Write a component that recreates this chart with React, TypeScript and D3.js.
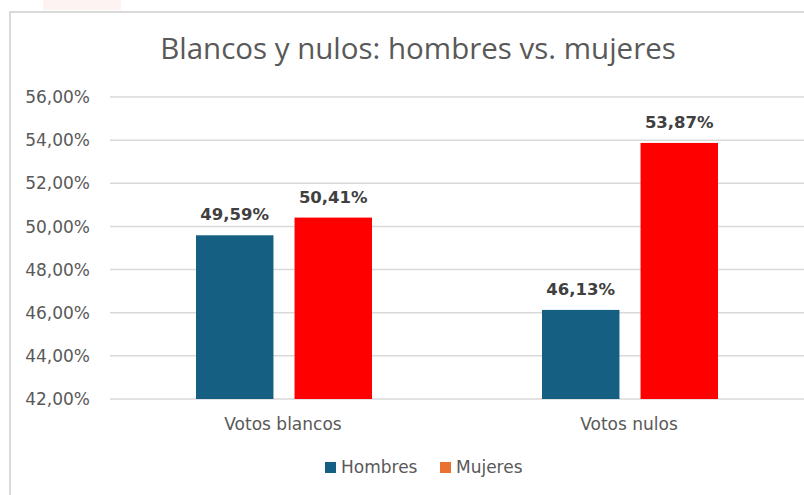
import React, { useEffect, useRef } from 'react';
import * as d3 from 'd3';

const categories = ['Votos blancos', 'Votos nulos'];
const seriesNames = ['Hombres', 'Mujeres'];
const hombres = [49.59, 46.13];
const mujeres = [50.41, 53.87];
const yTicks = [42, 44, 46, 48, 50, 52, 54, 56];
const barColors = ['#156082', '#FF0000'];
const legendColors = ['#156082', '#E97132'];

const fmt = (v: number) => v.toFixed(2).replace('.', ',') + '%';

const App: React.FC = () => {
    const ref = useRef<SVGSVGElement>(null);

    useEffect(() => {
        if (!ref.current) return;
        const svg = d3.select(ref.current);
        svg.selectAll('*').remove();

        const width = 804;
        const height = 495;
        const font = '"DejaVu Sans", sans-serif';

        // background + faint watermark bit
        svg.append('rect').attr('width', width).attr('height', height).attr('fill', '#fff');
        svg.append('rect').attr('x', 43).attr('y', 0).attr('width', 78).attr('height', 10).attr('fill', '#fef3f3');

        // chart frame (cropped screenshot)
        svg.append('path')
            .attr('d', `M10,${height} V12 H${width}`)
            .attr('fill', 'none')
            .attr('stroke', '#d9d9d9')
            .attr('stroke-width', 2);

        const y = d3.scaleLinear().domain([42, 56]).range([399, 97]);
        const x0 = d3.scaleBand<string>().domain(categories).range([110, 802]);
        const x1 = d3.scaleBand<string>().domain(seriesNames).range([86, 262]).paddingInner(0.214);

        // gridlines
        svg.append('g')
            .selectAll('line')
            .data(yTicks)
            .join('line')
            .attr('x1', 110)
            .attr('x2', width)
            .attr('y1', (d) => y(d))
            .attr('y2', (d) => y(d))
            .attr('stroke', '#d9d9d9')
            .attr('stroke-width', 1.5);

        // y tick labels
        svg.append('g')
            .selectAll('text')
            .data(yTicks)
            .join('text')
            .attr('x', 90)
            .attr('y', (d) => y(d))
            .attr('dy', '0.36em')
            .attr('text-anchor', 'end')
            .attr('font-family', font)
            .attr('font-size', 17)
            .attr('fill', '#595959')
            .text((d) => fmt(d));

        // bars
        const rows = categories.map((c, i) => ({ cat: c, vals: [hombres[i], mujeres[i]] }));
        const groups = svg.append('g')
            .selectAll('g')
            .data(rows)
            .join('g')
            .attr('transform', (d) => `translate(${x0(d.cat)},0)`);

        groups.selectAll('rect')
            .data((d) => d.vals.map((v, j) => ({ name: seriesNames[j], v, j })))
            .join('rect')
            .attr('x', (d) => x1(d.name)!)
            .attr('width', x1.bandwidth())
            .attr('y', (d) => y(d.v))
            .attr('height', (d) => y(42) - y(d.v))
            .attr('fill', (d) => barColors[d.j]);

        groups.selectAll('text')
            .data((d) => d.vals.map((v, j) => ({ name: seriesNames[j], v })))
            .join('text')
            .attr('x', (d) => x1(d.name)! + x1.bandwidth() / 2)
            .attr('y', (d) => y(d.v) - 15)
            .attr('text-anchor', 'middle')
            .attr('font-family', font)
            .attr('font-weight', 'bold')
            .attr('font-size', 16.5)
            .attr('fill', '#404040')
            .text((d) => fmt(d.v));

        // category labels
        svg.append('g')
            .selectAll('text')
            .data(categories)
            .join('text')
            .attr('x', (d) => x0(d)! + x0.bandwidth() / 2)
            .attr('y', 430)
            .attr('text-anchor', 'middle')
            .attr('font-family', font)
            .attr('font-size', 17)
            .attr('fill', '#595959')
            .text((d) => d);

        // title
        svg.append('text')
            .attr('x', 418)
            .attr('y', 59)
            .attr('text-anchor', 'middle')
            .attr('font-family', '"Open Sans", sans-serif')
            .attr('font-size', 29.5)
            .attr('fill', '#595959')
            .text('Blancos y nulos: hombres vs. mujeres');

        // legend
        const legendX = [325, 440];
        const legend = svg.append('g')
            .selectAll('g')
            .data(seriesNames)
            .join('g')
            .attr('transform', (_d, i) => `translate(${legendX[i]},462)`);
        legend.append('rect')
            .attr('width', 11)
            .attr('height', 11)
            .attr('fill', (_d, i) => legendColors[i]);
        legend.append('text')
            .attr('x', 16)
            .attr('y', 11)
            .attr('font-family', font)
            .attr('font-size', 17)
            .attr('fill', '#595959')
            .text((d) => d);
    }, []);

    return (
        <svg
            ref={ref}
            width={804}
            height={495}
            style={{ position: 'absolute', left: 0, top: 0 }}
        />
    );
};

export default App;
